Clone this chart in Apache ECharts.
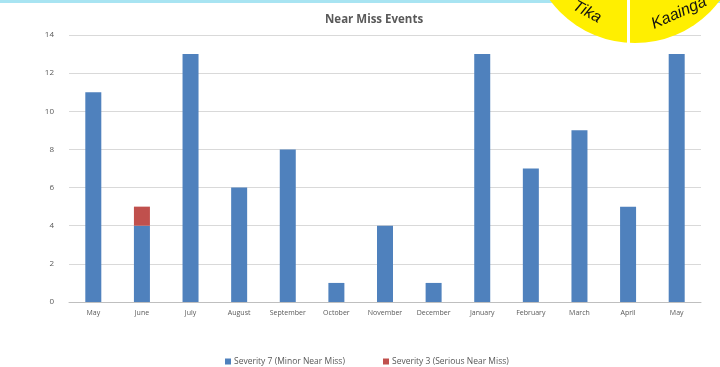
<!DOCTYPE html>
<html>
<head>
<meta charset="utf-8">
<script src="https://cdn.jsdelivr.net/npm/echarts@6/dist/echarts.min.js"></script>
<style>
html,body{margin:0;padding:0;background:#fff;}
#chart{width:720px;height:367px;}
</style>
</head>
<body>
<div id="chart"></div>
<script>
// Monthly near miss counts
const months = ['May','June','July','August','September','October','November','December','January','February','March','April','May'];
const severity7 = [11, 4, 13, 6, 8, 1, 4, 1, 13, 7, 9, 5, 13];
const severity3 = [0, 1, 0, 0, 0, 0, 0, 0, 0, 0, 0, 0, 0];
const yTicks = [0, 2, 4, 6, 8, 10, 12, 14];
const seriesNames = ['Severity 7 (Minor Near Miss)', 'Severity 3 (Serious Near Miss)'];

const chart = echarts.init(document.getElementById('chart'));
const font = '"Open Sans", "DejaVu Sans", sans-serif';
const legendBase = {
  top: 352,
  itemWidth: 6, itemHeight: 6, itemGap: 0,
  icon: 'rect',
  textStyle: { fontFamily: font, fontSize: 8.5, color: '#595959', padding: [0, 0, 0, -2] }
};

chart.setOption({
  animation: false,
  backgroundColor: '#ffffff',
  title: {
    text: 'Near Miss Events',
    left: 320, top: 9,
    textStyle: { fontFamily: font, fontSize: 11.5, fontWeight: 'bold', color: '#595959' }
  },
  legend: [
    Object.assign({}, legendBase, { left: 220, data: [seriesNames[0]] }),
    Object.assign({}, legendBase, { left: 378, data: [seriesNames[1]] })
  ],
  grid: { left: 69, right: 19, top: 35, bottom: 65, containLabel: false },
  xAxis: {
    type: 'category',
    data: months,
    axisLine: { lineStyle: { color: '#bfbfbf' } },
    axisTick: { show: false },
    axisLabel: { fontFamily: font, fontSize: 7, color: '#595959', margin: 7, interval: 0 }
  },
  yAxis: {
    type: 'value',
    min: yTicks[0], max: yTicks[yTicks.length - 1], interval: 2,
    axisLine: { show: false },
    axisTick: { show: false },
    splitLine: { lineStyle: { color: '#d9d9d9' } },
    axisLabel: { fontFamily: font, fontSize: 8, color: '#595959', margin: 15 }
  },
  series: [
    {
      name: seriesNames[0],
      type: 'bar', stack: 'total', barWidth: 16,
      itemStyle: { color: '#4f81bd' },
      data: severity7
    },
    {
      name: seriesNames[1],
      type: 'bar', stack: 'total', barWidth: 16,
      itemStyle: { color: '#c0504d' },
      data: severity3
    }
  ],
  graphic: [
    { type: 'rect', shape: { x: 0, y: 0, width: 720, height: 3 }, style: { fill: '#a8e4f2' }, z: 10 },
    { type: 'circle', shape: { cx: 635, cy: -63, r: 106 }, style: { fill: '#ffef00' }, z: 11 },
    { type: 'rect', shape: { x: 627, y: 0, width: 3, height: 44 }, style: { fill: '#ffffff' }, z: 12 },
    { type: 'text', x: 587, y: 12, rotation: -0.5, z: 13,
      style: { text: 'Tika', fontFamily: '"Liberation Sans", Arial, sans-serif', fontStyle: 'italic', fontSize: 16, fill: '#111', align: 'center', verticalAlign: 'middle' } },
    { type: 'text', x: 679, y: 13, rotation: 0.42, z: 13,
      style: { text: 'Kaainga', fontFamily: '"Liberation Sans", Arial, sans-serif', fontStyle: 'italic', fontSize: 16, fill: '#111', align: 'center', verticalAlign: 'middle' } }
  ]
});
</script>
</body>
</html>
